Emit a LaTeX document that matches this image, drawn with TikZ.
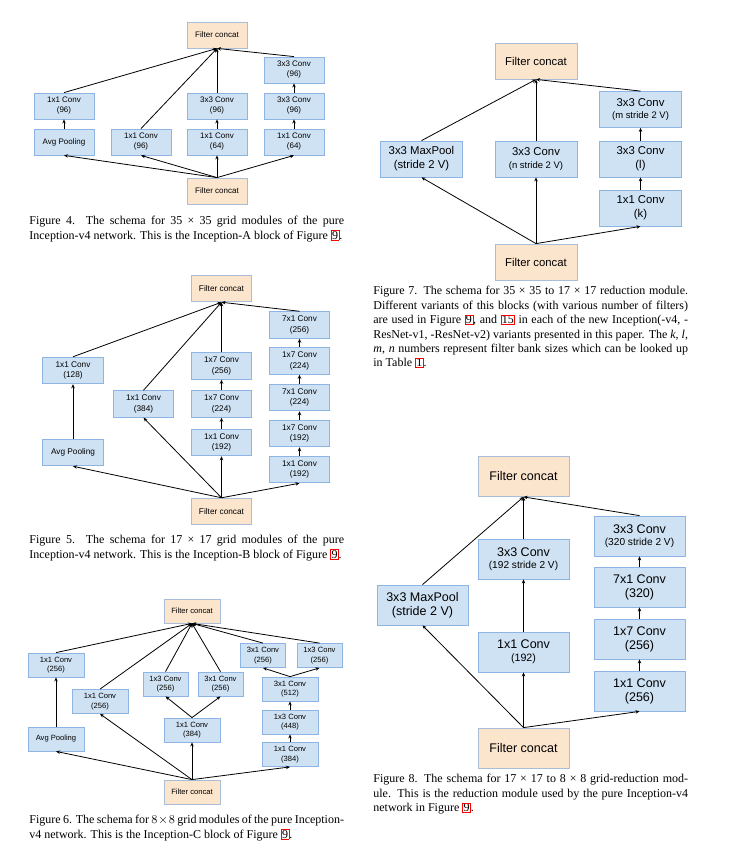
\documentclass[tikz,border=0pt]{standalone}
\usepackage{fontspec}
\setmainfont{Liberation Serif}
\setsansfont{Liberation Sans}
\usetikzlibrary{arrows.meta}
\definecolor{convfill}{HTML}{CFE2F3}
\definecolor{convline}{HTML}{8EB4E3}
\definecolor{catfill}{HTML}{FCE5CD}
\definecolor{catline}{HTML}{A9BCD8}
\newcommand{\linkbox}[1]{{\setlength{\fboxsep}{0.4pt}\setlength{\fboxrule}{0.5pt}\color{red}\fbox{\color{black}#1}}}
\newcommand{\smallline}[2]{{\fontsize{#1}{#1}\selectfont #2}}
\tikzset{
  conv/.style={draw=convline, fill=convfill, line width=0.6pt, align=center, inner sep=0pt},
  concat/.style={conv, draw=catline, fill=catfill},
  caption/.style={anchor=north west, text width=236pt, align=justify, inner sep=0pt, font=\fontsize{9}{10.8}\selectfont},
}
\begin{document}
\begin{tikzpicture}[x=0.75pt, y=-0.75pt, >={Stealth[length=3pt,width=2.6pt]}, line width=0.6pt]
\useasboundingbox (0,0) rectangle (733,860);

% Figure 4: Inception-A
\begin{scope}[font=\sffamily\fontsize{6}{7.5}\selectfont, every node/.append style={minimum width=45pt, minimum height=19.5pt}]
\node[concat] (a_top) at (217,35) {Filter concat};
\node[concat] (a_bot) at (217,191) {Filter concat};
\node[conv] (a_pool) at (64,142) {Avg Pooling};
\node[conv] (a_p1) at (64,106) {1x1 Conv\\(96)};
\node[conv] (a_c1) at (141,142) {1x1 Conv\\(96)};
\node[conv] (a_c2) at (217,142) {1x1 Conv\\(64)};
\node[conv] (a_c3) at (217,106) {3x3 Conv\\(96)};
\node[conv] (a_c4) at (294,142) {1x1 Conv\\(64)};
\node[conv] (a_c5) at (294,106) {3x3 Conv\\(96)};
\node[conv] (a_c6) at (294,70) {3x3 Conv\\(96)};
\end{scope}
\draw[->] (a_bot.north) -- (a_pool.south);
\draw[->] (a_bot.north) -- (a_c1.south);
\draw[->] (a_bot.north) -- (a_c2.south);
\draw[->] (a_bot.north) -- (a_c4.south);
\draw[->] (a_pool) -- (a_p1);
\draw[->] (a_c2) -- (a_c3);
\draw[->] (a_c4) -- (a_c5);
\draw[->] (a_c5) -- (a_c6);
\draw[->] (a_p1.north) -- (a_top.south);
\draw[->] (a_c1.north) -- (a_top.south);
\draw[->] (a_c3.north) -- (a_top.south);
\draw[->] (a_c6.north) -- (a_top.south);
\node[caption] (a_cap) at (29,216) {Figure 4. The schema for 35 × 35 grid modules of the pure\linebreak Inception-v4 network. This is the Inception-A block of Figure \linkbox{9}.};

% Figure 5: Inception-B
\begin{scope}[font=\sffamily\fontsize{6.2}{7.6}\selectfont, every node/.append style={minimum width=45.5pt, minimum height=20pt}]
\node[concat] (b_top) at (221.5,288.5) {Filter concat};
\node[concat] (b_bot) at (221.5,511.5) {Filter concat};
\node[conv] (b_pool) at (73,452.5) {Avg Pooling};
\node[conv] (b_p1) at (73,370.5) {1x1 Conv\\(128)};
\node[conv] (b_c1) at (143.5,404) {1x1 Conv\\(384)};
\node[conv] (b_c2) at (221.5,442.5) {1x1 Conv\\(192)};
\node[conv] (b_c3) at (221.5,404) {1x7 Conv\\(224)};
\node[conv] (b_c4) at (221.5,366) {1x7 Conv\\(256)};
\node[conv] (b_d1) at (299.5,469.5) {1x1 Conv\\(192)};
\node[conv] (b_d2) at (299.5,433.5) {1x7 Conv\\(192)};
\node[conv] (b_d3) at (299.5,397.5) {7x1 Conv\\(224)};
\node[conv] (b_d4) at (299.5,361) {1x7 Conv\\(224)};
\node[conv] (b_d5) at (299.5,325) {7x1 Conv\\(256)};
\end{scope}
\draw[->] (b_bot.north) -- (b_pool.south);
\draw[->] (b_bot.north) -- (b_c1.south);
\draw[->] (b_bot.north) -- (b_c2.south);
\draw[->] (b_bot.north) -- (b_d1.south);
\draw[->] (b_pool) -- (b_p1);
\draw[->] (b_c2) -- (b_c3);
\draw[->] (b_c3) -- (b_c4);
\draw[->] (b_d1) -- (b_d2);
\draw[->] (b_d2) -- (b_d3);
\draw[->] (b_d3) -- (b_d4);
\draw[->] (b_d4) -- (b_d5);
\draw[->] (b_p1.north) -- (b_top.south);
\draw[->] (b_c1.north) -- (b_top.south);
\draw[->] (b_c4.north) -- (b_top.south);
\draw[->] (b_d5.north) -- (b_top.south);
\node[caption] (b_cap) at (29,535) {Figure 5. The schema for 17 × 17 grid modules of the pure\linebreak Inception-v4 network. This is the Inception-B block of Figure \linkbox{9}.};

% Figure 6: Inception-C
\begin{scope}[font=\sffamily\fontsize{5.7}{7}\selectfont, every node/.append style={minimum width=42pt, minimum height=18pt}]
\node[concat] (c_top) at (192,611) {Filter concat};
\node[concat] (c_bot) at (192,792) {Filter concat};
\node[conv] (c_pool) at (56,739) {Avg Pooling};
\node[conv] (c_p1) at (56,665) {1x1 Conv\\(256)};
\node[conv] (c_c1) at (100,701.5) {1x1 Conv\\(256)};
\node[conv] (c_m0) at (192,730) {1x1 Conv\\(384)};
\node[conv, minimum width=33.75pt] (c_m1) at (165.5,684) {1x3 Conv\\(256)};
\node[conv, minimum width=33.75pt] (c_m2) at (220.5,684) {3x1 Conv\\(256)};
\node[conv] (c_r0) at (290,754.5) {1x1 Conv\\(384)};
\node[conv] (c_r1) at (290,722) {1x3 Conv\\(448)};
\node[conv] (c_r2) at (290,689) {3x1 Conv\\(512)};
\node[conv, minimum width=33.75pt] (c_r3) at (263,655.5) {3x1 Conv\\(256)};
\node[conv, minimum width=33.75pt] (c_r4) at (319.5,655.5) {1x3 Conv\\(256)};
\end{scope}
\draw[->] (c_bot.north) -- (c_pool.south);
\draw[->] (c_bot.north) -- (c_c1.south);
\draw[->] (c_bot.north) -- (c_m0.south);
\draw[->] (c_bot.north) -- (c_r0.south);
\draw[->] (c_pool) -- (c_p1);
\draw[->] (c_m0.north) -- (c_m1.south);
\draw[->] (c_m0.north) -- (c_m2.south);
\draw[->] (c_r0) -- (c_r1);
\draw[->] (c_r1) -- (c_r2);
\draw[->] (c_r2.north) -- (c_r3.south);
\draw[->] (c_r2.north) -- (c_r4.south);
\draw[->] (c_p1.north) -- (c_top.south);
\draw[->] (c_c1.north) -- (c_top.south);
\draw[->] (c_m1.north) -- (c_top.south);
\draw[->] (c_m2.north) -- (c_top.south);
\draw[->] (c_r3.north) -- (c_top.south);
\draw[->] (c_r4.north) -- (c_top.south);
\node[caption] (c_cap) at (29,815) {Figure 6. The schema for $8\times8$ grid modules of the pure Inception-\linebreak v4 network. This is the Inception-C block of Figure \linkbox{9}.};

% Figure 7: reduction 35 -> 17
\begin{scope}[font=\sffamily\fontsize{8.5}{10.5}\selectfont, every node/.append style={minimum width=61.5pt, minimum height=27pt}]
\node[concat] (d_top) at (536,61) {Filter concat};
\node[concat] (d_bot) at (536,262) {Filter concat};
\node[conv] (d_pool) at (421.5,159) {3x3 MaxPool\\(stride 2 V)};
\node[conv] (d_c1) at (536,159) {3x3 Conv\\[-0.8pt]\smallline{7.1}{(n stride 2 V)}};
\node[conv] (d_r0) at (640.5,208) {1x1 Conv\\(k)};
\node[conv] (d_r1) at (640.5,159) {3x3 Conv\\(l)};
\node[conv] (d_r2) at (640.5,109.5) {3x3 Conv\\[-0.8pt]\smallline{7.1}{(m stride 2 V)}};
\end{scope}
\draw[->] (d_bot.north) -- (d_pool.south);
\draw[->] (d_bot.north) -- (d_c1.south);
\draw[->] (d_bot.north) -- (d_r0.south);
\draw[->] (d_r0) -- (d_r1);
\draw[->] (d_r1) -- (d_r2);
\draw[->] (d_pool.north) -- (d_top.south);
\draw[->] (d_c1.north) -- (d_top.south);
\draw[->] (d_r2.north) -- (d_top.south);
\node[caption] (d_cap) at (373,286) {Figure 7. The schema for 35 × 35 to 17 × 17 reduction module.\linebreak Different variants of this blocks (with various number of filters)\linebreak are used in Figure \linkbox{9}, and \linkbox{15} in each of the new Inception(-v4, -\linebreak ResNet-v1, -ResNet-v2) variants presented in this paper. The \textit{k}, \textit{l},\linebreak \textit{m}, \textit{n} numbers represent filter bank sizes which can be looked up\linebreak in Table \linkbox{1}.};

% Figure 8: reduction 17 -> 8
\begin{scope}[font=\sffamily\fontsize{9.4}{10.6}\selectfont, every node/.append style={minimum width=68.25pt, minimum height=30pt}]
\node[concat] (e_top) at (523.5,476.5) {Filter concat};
\node[concat] (e_bot) at (523.5,748) {Filter concat};
\node[conv] (e_pool) at (422.5,605) {3x3 MaxPool\\(stride 2 V)};
\node[conv] (e_c0) at (523.5,652) {1x1 Conv\\[-0.8pt]\smallline{8}{(192)}};
\node[conv] (e_c1) at (523.5,559) {3x3 Conv\\[-1.5pt]\smallline{7.6}{(192 stride 2 V)}};
\node[conv] (e_r0) at (639.5,691) {1x1 Conv\\(256)};
\node[conv] (e_r1) at (639.5,639) {1x7 Conv\\(256)};
\node[conv] (e_r2) at (639.5,587) {7x1 Conv\\(320)};
\node[conv] (e_r3) at (639.5,536) {3x3 Conv\\[-1.5pt]\smallline{7.6}{(320 stride 2 V)}};
\end{scope}
\draw[->] (e_bot.north) -- (e_pool.south);
\draw[->] (e_bot.north) -- (e_c0.south);
\draw[->] (e_bot.north) -- (e_r0.south);
\draw[->] (e_c0) -- (e_c1);
\draw[->] (e_r0) -- (e_r1);
\draw[->] (e_r1) -- (e_r2);
\draw[->] (e_r2) -- (e_r3);
\draw[->] (e_pool.north) -- (e_top.south);
\draw[->] (e_c1.north) -- (e_top.south);
\draw[->] (e_r3.north) -- (e_top.south);
\node[caption] (e_cap) at (373,774) {Figure 8. The schema for 17 × 17 to 8 × 8 grid-reduction mod-\linebreak ule. This is the reduction module used by the pure Inception-v4\linebreak network in Figure \linkbox{9}.};
\end{tikzpicture}
\end{document}
